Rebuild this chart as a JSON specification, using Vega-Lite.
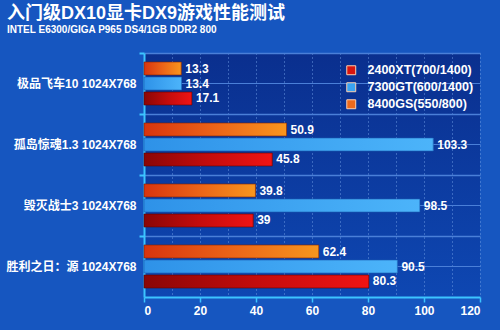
{
  "$schema": "https://vega.github.io/schema/vega-lite/v6.json",
  "autosize": "none",
  "width": 336,
  "height": 244,
  "padding": {"left": 144, "top": 53, "right": 20, "bottom": 33},
  "background": "#1656c0",
  "title": {
    "text": "入门级DX10显卡DX9游戏性能测试",
    "subtitle": "INTEL E6300/GIGA P965 DS4/1GB DDR2 800",
    "anchor": "start",
    "frame": "group",
    "dx": -137,
    "offset": 17,
    "color": "white",
    "font": "Liberation Sans, Noto Sans CJK SC",
    "fontSize": 18,
    "fontWeight": "bold",
    "subtitleColor": "white",
    "subtitleFont": "Liberation Sans",
    "subtitleFontSize": 10,
    "subtitleFontWeight": "bold",
    "subtitlePadding": 2
  },
  "config": {
    "view": {"fill": {"gradient": "linear", "x1": 0, "y1": 0, "x2": 0, "y2": 1, "stops": [{"offset": 0, "color": "#0a2f8e"}, {"offset": 1, "color": "#0e47b2"}]}, "stroke": null},
    "font": "Liberation Sans, Noto Sans CJK SC"
  },
  "resolve": {"axis": {"x": "independent", "y": "independent"}},
  "data": {
    "values": [
      {"game": "极品飞车10 1024X768", "card": "8400GS(550/800)", "fps": 13.3},
      {"game": "极品飞车10 1024X768", "card": "7300GT(600/1400)", "fps": 13.4},
      {"game": "极品飞车10 1024X768", "card": "2400XT(700/1400)", "fps": 17.1},
      {"game": "孤岛惊魂1.3 1024X768", "card": "8400GS(550/800)", "fps": 50.9},
      {"game": "孤岛惊魂1.3 1024X768", "card": "7300GT(600/1400)", "fps": 103.3},
      {"game": "孤岛惊魂1.3 1024X768", "card": "2400XT(700/1400)", "fps": 45.8},
      {"game": "毁灭战士3 1024X768", "card": "8400GS(550/800)", "fps": 39.8},
      {"game": "毁灭战士3 1024X768", "card": "7300GT(600/1400)", "fps": 98.5},
      {"game": "毁灭战士3 1024X768", "card": "2400XT(700/1400)", "fps": 39},
      {"game": "胜利之日：源 1024X768", "card": "8400GS(550/800)", "fps": 62.4},
      {"game": "胜利之日：源 1024X768", "card": "7300GT(600/1400)", "fps": 90.5},
      {"game": "胜利之日：源 1024X768", "card": "2400XT(700/1400)", "fps": 80.3}
    ]
  },
  "encoding": {
    "y": {
      "field": "game",
      "type": "nominal",
      "sort": null,
      "title": null,
      "scale": {"paddingInner": 0, "paddingOuter": 0}
    },
    "x": {
      "field": "fps",
      "type": "quantitative",
      "title": null,
      "scale": {"domain": [0, 120], "nice": false}
    },
    "yOffset": {
      "field": "card",
      "type": "nominal",
      "sort": ["8400GS(550/800)", "7300GT(600/1400)", "2400XT(700/1400)"],
      "scale": {"paddingInner": 0.133, "paddingOuter": 0.6}
    }
  },
  "layer": [
    {
      "mark": {"type": "rule", "opacity": 0},
      "encoding": {
        "y": {
          "field": "game",
          "type": "nominal",
          "sort": null,
          "title": null,
          "axis": {
            "orient": "right",
            "labels": false,
            "domain": false,
            "ticks": false,
            "grid": true,
            "gridColor": "#4a7fd8",
            "gridWidth": 1,
            "zindex": 0
          }
        },
        "x": {
          "field": "fps",
          "type": "quantitative",
          "title": null,
          "axis": {
            "orient": "top",
            "values": [10, 20, 30, 40, 50, 60, 70, 80, 90, 100, 110, 120],
            "labels": false,
            "ticks": false,
            "domain": false,
            "grid": true,
            "gridColor": "#6a98e0",
            "gridDash": [1, 3],
            "gridWidth": 1,
            "zindex": 0
          }
        }
      }
    },
    {
      "mark": {"type": "bar"},
      "encoding": {
        "y": {
          "field": "game",
          "type": "nominal",
          "sort": null,
          "title": null,
          "axis": {
            "orient": "left",
            "bandPosition": 0,
            "labelOffset": 0,
            "labelColor": "white",
            "labelFontSize": 12,
            "labelFontWeight": "bold",
            "labelPadding": 3,
            "ticks": true,
            "tickColor": "#3cc4ff",
            "tickSize": 5,
            "tickWidth": 2,
            "domain": true,
            "domainColor": "#3cc4ff",
            "domainWidth": 2,
            "grid": true,
            "gridColor": "#4a7fd8",
            "gridWidth": 1.5,
            "zindex": 0
          }
        },
        "x": {
          "field": "fps",
          "type": "quantitative",
          "title": null,
          "axis": {
            "orient": "bottom",
            "values": [0, 20, 40, 60, 80, 100, 120],
            "labelColor": "white",
            "labelFontSize": 12,
            "labelFontWeight": "bold",
            "labelPadding": 3,
            "tickColor": "#3cc4ff",
            "tickSize": 5,
            "tickWidth": 1.5,
            "domainColor": "#3cc4ff",
            "domainWidth": 2,
            "grid": false,
            "zindex": 0
          }
        },
        "color": {
          "field": "card",
          "type": "nominal",
          "scale": {
            "domain": ["2400XT(700/1400)", "7300GT(600/1400)", "8400GS(550/800)"],
            "range": ["#d8150f", "#3aa4f2", "#ee6a1c"]
          },
          "legend": {
            "title": null,
            "orient": "none",
            "legendX": 201,
            "legendY": 11,
            "padding": 0,
            "symbolType": "square",
            "symbolSize": 80,
            "symbolStrokeColor": "#ffd0b0",
            "symbolStrokeWidth": 1,
            "labelColor": "white",
            "labelFontSize": 12.5,
            "labelFontWeight": "bold",
            "labelOffset": 10,
            "rowPadding": 3
          }
        }
      }
    },
    {
      "transform": [{"filter": "datum.card === '8400GS(550/800)'"}],
      "mark": {"type": "bar", "stroke": "#7a2208", "strokeWidth": 0.6, "fill": {"gradient": "linear", "x1": 0, "y1": 0, "x2": 1, "y2": 0, "stops": [{"offset": 0, "color": "#d8340e"}, {"offset": 0.5, "color": "#ec6418"}, {"offset": 1, "color": "#f8961e"}]}},
      "encoding": {
        "y": {"field": "game", "type": "nominal", "sort": null, "axis": null},
        "x": {"field": "fps", "type": "quantitative", "axis": null}
      }
    },
    {
      "transform": [{"filter": "datum.card === '7300GT(600/1400)'"}],
      "mark": {"type": "bar", "stroke": "#1a5ab0", "strokeWidth": 0.6, "fill": {"gradient": "linear", "x1": 0, "y1": 0, "x2": 1, "y2": 0, "stops": [{"offset": 0, "color": "#2e92e8"}, {"offset": 1, "color": "#4cb4fa"}]}},
      "encoding": {
        "y": {"field": "game", "type": "nominal", "sort": null, "axis": null},
        "x": {"field": "fps", "type": "quantitative", "axis": null}
      }
    },
    {
      "transform": [{"filter": "datum.card === '2400XT(700/1400)'"}],
      "mark": {"type": "bar", "stroke": "#5a0404", "strokeWidth": 0.6, "fill": {"gradient": "linear", "x1": 0, "y1": 0, "x2": 1, "y2": 0, "stops": [{"offset": 0, "color": "#8a0606"}, {"offset": 0.5, "color": "#c40c0c"}, {"offset": 1, "color": "#f01414"}]}},
      "encoding": {
        "y": {"field": "game", "type": "nominal", "sort": null, "axis": null},
        "x": {"field": "fps", "type": "quantitative", "axis": null}
      }
    },
    {
      "mark": {"type": "text", "align": "left", "dx": 4, "color": "white", "fontSize": 12, "fontWeight": "bold"},
      "encoding": {
        "y": {"field": "game", "type": "nominal", "sort": null, "axis": null},
        "x": {"field": "fps", "type": "quantitative", "axis": null},
        "text": {"field": "fps", "type": "quantitative"}
      }
    }
  ]
}
